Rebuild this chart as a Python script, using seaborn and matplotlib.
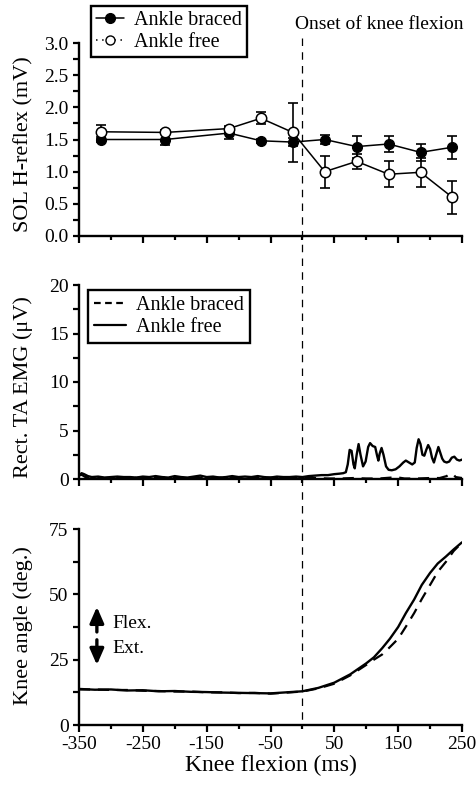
import numpy as np
import pandas as pd
import matplotlib
matplotlib.use("Agg")
import matplotlib.pyplot as plt
import matplotlib.transforms as mtransforms
from matplotlib.lines import Line2D
from matplotlib.ticker import MultipleLocator, FixedLocator, FormatStrFormatter
import seaborn as sns

# ---------------- data ----------------
# Panel A: SOL H-reflex (mV)
h_time = [-315, -215, -115, -65, -15, 35, 85, 135, 185, 235]
h_braced = [1.50, 1.50, 1.60, 1.48, 1.46, 1.50, 1.39, 1.43, 1.30, 1.38]
h_braced_err = [0.04, 0.08, 0.09, 0.03, 0.06, 0.07, 0.17, 0.13, 0.13, 0.18]
h_free = [1.62, 1.61, 1.67, 1.83, 1.61, 1.00, 1.16, 0.96, 0.99, 0.60]
h_free_err = [0.11, 0.03, 0.04, 0.09, 0.46, 0.25, 0.12, 0.20, 0.23, 0.26]

# Panel B: rectified TA EMG (uV)
emg_free_t = [-350, -346, -342, -336, -330, -320, -310, -300, -290, -280, -270, -260,
              -250, -240, -230, -220, -210, -200, -190, -180, -170, -160, -150, -140,
              -130, -120, -110, -100, -90, -80, -70, -60, -50, -40, -30, -20, -10, 0,
              10, 20, 30, 40, 50, 58, 64, 68, 71, 74, 77, 80, 82, 85, 88, 91, 95, 99,
              103, 106, 110, 114, 117, 119, 121, 124, 127, 131, 135, 140, 146, 152,
              158, 162, 167, 172, 176, 179, 182, 185, 188, 191, 194, 197, 200, 203,
              206, 209, 213, 216, 219, 222, 226, 230, 234, 238, 242, 246, 250]
emg_free_v = [0.3, 0.6, 0.5, 0.3, 0.2, 0.25, 0.15, 0.2, 0.25, 0.2, 0.2, 0.15,
              0.25, 0.2, 0.3, 0.2, 0.15, 0.3, 0.2, 0.15, 0.25, 0.35, 0.2, 0.25,
              0.15, 0.2, 0.3, 0.2, 0.25, 0.2, 0.3, 0.2, 0.15, 0.25, 0.2, 0.2, 0.25, 0.2,
              0.3, 0.35, 0.4, 0.4, 0.5, 0.55, 0.6, 0.7, 1.5, 3.0, 2.9, 1.5, 1.1, 2.5, 3.6, 2.5, 1.3, 1.8,
              3.3, 3.7, 3.4, 3.3, 2.4, 1.9, 2.6, 3.2, 2.5, 1.3, 0.95, 0.9, 1.0, 1.3,
              1.7, 1.9, 1.7, 1.5, 1.7, 3.2, 4.1, 3.6, 2.5, 2.4, 3.0, 3.5, 3.1, 2.2,
              1.7, 2.4, 3.3, 2.7, 2.1, 1.8, 1.7, 1.8, 2.2, 2.3, 2.0, 1.9, 2.0]
emg_braced_t = [-350, -345, -340, -330, -310, -290, -270, -250, -230, -210, -190, -170,
                -150, -130, -110, -90, -70, -50, -30, -10, 0, 20, 40, 60, 80, 100, 120,
                140, 146, 160, 180, 200, 215, 226, 230, 236, 240, 250]
emg_braced_v = [0.45, 0.4, 0.2, 0.15, 0.1, 0.15, 0.1, 0.15, 0.1, 0.15, 0.1, 0.15,
                0.1, 0.15, 0.1, 0.15, 0.1, 0.15, 0.1, 0.1, 0.1, 0.1, 0.05, 0.05, 0.1, 0.05, 0.05,
                0.15, 0.2, 0.05, 0.05, 0.1, 0.1, 0.3, 0.5, 0.5, 0.2, 0.1]

# Panel C: knee angle (deg)
knee_t = [-350, -325, -300, -275, -250, -225, -200, -175, -150, -125, -100, -75, -50,
          -25, 0, 25, 50, 75, 100, 112, 125, 137, 150, 162, 175, 187, 200, 212, 225,
          237, 250]
knee_free = [13.8, 13.5, 13.6, 13.2, 13.3, 12.9, 13.0, 12.7, 12.6, 12.4, 12.3, 12.2, 12.1,
             12.5, 12.9, 14.2, 16.2, 19.4, 23.6, 25.9, 29.4, 33.0, 37.5, 42.8, 48.0, 53.6,
             58.2, 61.8, 64.5, 67.2, 69.9]
knee_braced = [13.6, 13.6, 13.4, 13.4, 13.1, 13.0, 12.8, 12.8, 12.5, 12.5, 12.2, 12.3, 12.0,
               12.4, 12.8, 14.0, 15.8, 19.0, 23.0, 25.0, 27.0, 29.8, 33.0, 37.6, 42.8, 48.2,
               53.6, 58.6, 62.5, 66.6, 69.8]

# ---------------- style ----------------
sns.set_theme(style="ticks")
plt.rcParams['font.family'] = ['Liberation Serif', 'DejaVu Serif']
plt.rcParams['axes.unicode_minus'] = False

fig = plt.figure(figsize=(4.76, 7.9), dpi=100, facecolor='white')
L, W = 79 / 476, 383 / 476
ax1 = fig.add_axes([L, 1 - 236 / 790, W, 193 / 790])
ax2 = fig.add_axes([L, 1 - 479 / 790, W, 194 / 790])
ax3 = fig.add_axes([L, 1 - 725 / 790, W, 196 / 790])

for ax in (ax1, ax2, ax3):
    ax.set_facecolor('white')
    sns.despine(ax=ax)
    for s in ('left', 'bottom'):
        ax.spines[s].set_linewidth(1.7)
        ax.spines[s].set_color('black')
    ax.set_xlim(-350, 250)
    ax.xaxis.set_major_locator(FixedLocator([-350, -250, -150, -50, 50, 150, 250]))
    ax.xaxis.set_minor_locator(FixedLocator([-300, -200, -100, 0, 100, 200]))
    ax.tick_params(axis='both', which='both', direction='out', color='black',
                   width=1.6, labelsize=14, labelcolor='black', pad=3)
    ax.tick_params(axis='x', which='major', length=5)
    ax.tick_params(axis='x', which='minor', length=3)
    ax.tick_params(axis='y', which='both', length=4.5)
    ax.grid(False)

# ---- Panel A ----
ax1.errorbar(h_time, h_braced, yerr=h_braced_err, fmt='none', ecolor='black',
             elinewidth=1.2, capsize=3.5, capthick=1.2, zorder=2)
ax1.errorbar(h_time, h_free, yerr=h_free_err, fmt='none', ecolor='black',
             elinewidth=1.2, capsize=3.5, capthick=1.2, zorder=2)
sns.lineplot(x=h_time, y=h_braced, ax=ax1, color='black', lw=1.1, marker='o',
             markersize=7, markerfacecolor='black', markeredgecolor='black',
             markeredgewidth=1.0, estimator=None, sort=False, zorder=3)
sns.lineplot(x=h_time, y=h_free, ax=ax1, color='black', lw=1.1, marker='o',
             markersize=7.5, markerfacecolor='white', markeredgecolor='black',
             markeredgewidth=1.1, estimator=None, sort=False, zorder=4)
ax1.set_ylim(0, 3.0)
ax1.yaxis.set_major_locator(MultipleLocator(0.5))
ax1.yaxis.set_minor_locator(MultipleLocator(0.25))
ax1.yaxis.set_major_formatter(FormatStrFormatter('%.1f'))
ax1.tick_params(axis='x', labelbottom=False)
ax1.set_ylabel('SOL H-reflex (mV)', fontsize=16, color='black')
ax1.yaxis.set_label_coords(-0.12, 0.477)
h1 = [Line2D([], [], color='black', lw=1.1, marker='o', markersize=7,
             markerfacecolor='black', markeredgecolor='black'),
      Line2D([], [], color='black', lw=1.1, ls=(0, (1, 3)), marker='o', markersize=6.5,
             markerfacecolor='white', markeredgecolor='black')]
leg1 = ax1.legend(h1, ['Ankle braced', 'Ankle free'], loc='upper left',
                  bbox_to_anchor=(0.031, 1.19), borderaxespad=0, fontsize=14.5,
                  frameon=True, fancybox=False, edgecolor='black', framealpha=1,
                  handlelength=1.4, handletextpad=0.5, borderpad=0.25,
                  labelspacing=0.1)
leg1.get_frame().set_linewidth(1.7)
for t in leg1.get_texts():
    t.set_color('black')
leg1.set_zorder(10)
ax1.text(-11, 1.095, 'Onset of knee flexion',
         transform=mtransforms.blended_transform_factory(ax1.transData, ax1.transAxes),
         ha='left', va='center', fontsize=14, color='black')

# ---- Panel B ----
sns.lineplot(x=emg_braced_t, y=emg_braced_v, ax=ax2, color='black', lw=1.6,
             linestyle=(0, (5, 3.5)), estimator=None, sort=False)
sns.lineplot(x=emg_free_t, y=emg_free_v, ax=ax2, color='black', lw=1.7,
             estimator=None, sort=False)
ax2.set_ylim(0, 20)
ax2.yaxis.set_major_locator(MultipleLocator(5))
ax2.yaxis.set_minor_locator(MultipleLocator(2.5))
ax2.tick_params(axis='x', labelbottom=False)
ax2.set_ylabel('Rect. TA EMG (μV)', fontsize=16, color='black')
ax2.yaxis.set_label_coords(-0.12, 0.472)
h2 = [Line2D([], [], color='black', lw=1.6, ls=(0, (3, 2))),
      Line2D([], [], color='black', lw=1.6)]
leg2 = ax2.legend(h2, ['Ankle braced', 'Ankle free'], loc='upper left',
                  bbox_to_anchor=(0.0235, 0.974), borderaxespad=0, fontsize=14.5,
                  frameon=True, fancybox=False, edgecolor='black', framealpha=1,
                  handlelength=1.6, handletextpad=0.5, borderpad=0.3,
                  labelspacing=0.15)
leg2.get_frame().set_linewidth(1.7)
for t in leg2.get_texts():
    t.set_color('black')

# ---- Panel C ----
sns.lineplot(x=knee_t, y=knee_braced, ax=ax3, color='black', lw=1.6,
             linestyle=(0, (5, 3.5)), estimator=None, sort=False)
sns.lineplot(x=knee_t, y=knee_free, ax=ax3, color='black', lw=1.7,
             estimator=None, sort=False)
ax3.set_ylim(0, 75)
ax3.yaxis.set_major_locator(MultipleLocator(25))
ax3.yaxis.set_minor_locator(MultipleLocator(12.5))
ax3.set_ylabel('Knee angle (deg.)', fontsize=16, color='black')
ax3.yaxis.set_label_coords(-0.12, 0.508)
ax3.set_xlabel('Knee flexion (ms)', fontsize=17, color='black', labelpad=1)
arrow_kw = dict(arrowstyle='-|>,head_width=0.35,head_length=0.8', color='black', lw=2.4,
                shrinkA=0, shrinkB=0)
ax3.annotate('', xy=(-322, 45.2), xytext=(-322, 35.6), arrowprops=arrow_kw)
ax3.annotate('', xy=(-322, 23.0), xytext=(-322, 32.6), arrowprops=arrow_kw)
ax3.text(-298, 38.7, 'Flex.', fontsize=14, va='center', ha='left', color='black')
ax3.text(-298, 29.1, 'Ext.', fontsize=14, va='center', ha='left', color='black')

# ---- onset line across all panels ----
onset = Line2D([0, 0], [1 - 38 / 790, 1 - 725 / 790], color='black', lw=0.9,
               ls=(0, (6, 5)),
               transform=mtransforms.blended_transform_factory(ax3.transData, fig.transFigure))
fig.add_artist(onset)

fig.savefig('out.png', dpi=100, facecolor='white')
